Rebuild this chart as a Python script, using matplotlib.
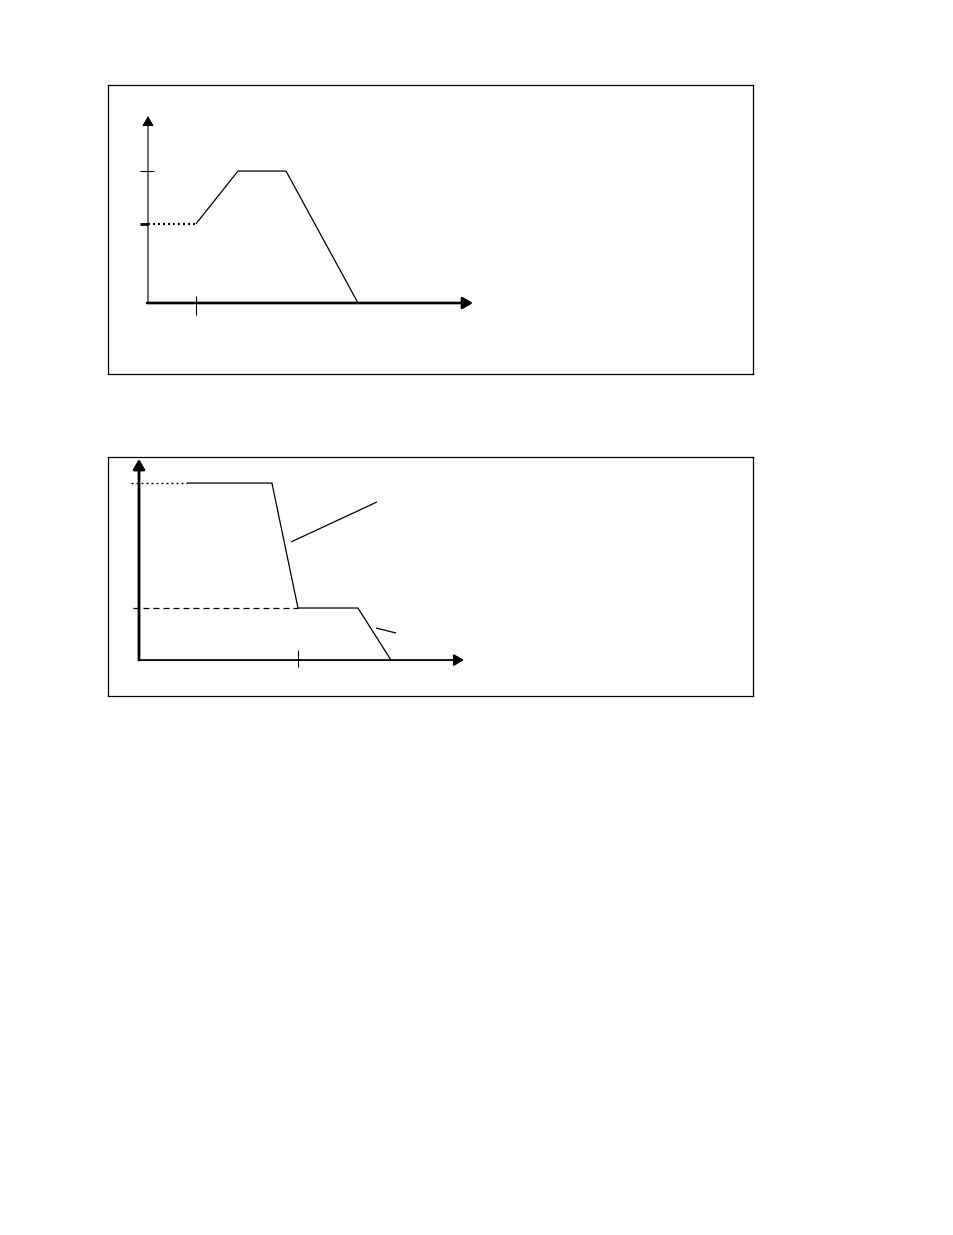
import matplotlib
matplotlib.use("Agg")
import matplotlib.pyplot as plt

plt.rcParams['lines.scale_dashes'] = False
plt.rcParams['lines.solid_capstyle'] = 'butt'

# --- schema 1 : montee puis palier puis descente (unites arbitraires)
prof1_x = [1.0, 1.875, 2.875, 4.375]
prof1_y = [0.6, 1.0, 1.0, 0.0]
start1_x = [0.0, 1.0]          # niveau initial en pointilles
start1_y = [0.6, 0.6]
yticks1 = [1.0, 0.6]
xtick1 = 1.0
xaxis1_end = 6.77
yaxis1_end = 1.417

# --- schema 2 : deux paliers et deux chutes
prof2_x = [0.302, 0.836, 1.0, 1.377, 1.585]
prof2_y = [1.0, 1.0, 0.294, 0.294, 0.0]
top2_x = [-0.05, 0.302]        # debut du palier haut en pointilles
top2_y = [1.0, 1.0]
mid2_x = [-0.038, 1.0]         # palier bas en tirets
mid2_y = [0.294, 0.294]
lead1_x = [0.956, 1.497]       # traits de renvoi
lead1_y = [0.667, 0.893]
lead2_x = [1.491, 1.616]
lead2_y = [0.181, 0.153]
xtick2 = 1.0
xaxis2_end = 2.044
yaxis2_end = 1.136

W, H = 954, 1235
fig = plt.figure(figsize=(W / 100, H / 100), dpi=100)


def axe_fleche(ax, x0, y0, x1, y1, lw):
    ax.annotate('', xy=(x1, y1), xytext=(x0, y0), annotation_clip=False,
                arrowprops=dict(arrowstyle='-|>,head_length=0.6,head_width=0.35',
                                lw=lw, color='k', shrinkA=0, shrinkB=0,
                                mutation_scale=10))


def cadre(ax):
    ax.set_xticks([])
    ax.set_yticks([])
    for s in ax.spines.values():
        s.set_linewidth(0.9)
        s.set_color('k')


# schema 1
ax1 = fig.add_axes([108 / W, (H - 374) / H, 645 / W, 289 / H])
cadre(ax1)
ax1.set_xlim(-0.833, 12.604)
ax1.set_ylim(-0.538, 1.652)
axe_fleche(ax1, 0, 0, 0, yaxis1_end, 0.8)
axe_fleche(ax1, -0.02, 0, xaxis1_end, 0, 1.9)
ax1.plot(prof1_x, prof1_y, color='k', lw=0.9)
ax1.plot(start1_x, start1_y, color='k', lw=1.6, ls=(0, (1.4, 2.2)))
ax1.plot([-0.167, 0.125], [yticks1[0]] * 2, color='k', lw=0.8)
ax1.plot([-0.167, 0.0], [yticks1[1]] * 2, color='k', lw=2.0)
ax1.plot([xtick1, xtick1], [0.053, -0.091], color='k', lw=0.8)

# schema 2
ax2 = fig.add_axes([108 / W, (H - 696) / H, 645 / W, 239 / H])
cadre(ax2)
ax2.set_xlim(-0.195, 3.862)
ax2.set_ylim(-0.203, 1.147)
axe_fleche(ax2, 0, 0, 0, yaxis2_end, 2.0)
axe_fleche(ax2, 0, 0, xaxis2_end, 0, 1.3)
ax2.plot(prof2_x, prof2_y, color='k', lw=0.9)
ax2.plot(top2_x, top2_y, color='k', lw=1.0, ls=(0, (1.4, 2.2)))
ax2.plot(mid2_x, mid2_y, color='k', lw=0.9, ls=(0, (4.3, 2.9)))
ax2.plot(lead1_x, lead1_y, color='k', lw=0.9)
ax2.plot(lead2_x, lead2_y, color='k', lw=0.9)
ax2.plot([xtick2, xtick2], [0.056, -0.040], color='k', lw=0.8)

fig.savefig('out.png', dpi=100, facecolor='white')
